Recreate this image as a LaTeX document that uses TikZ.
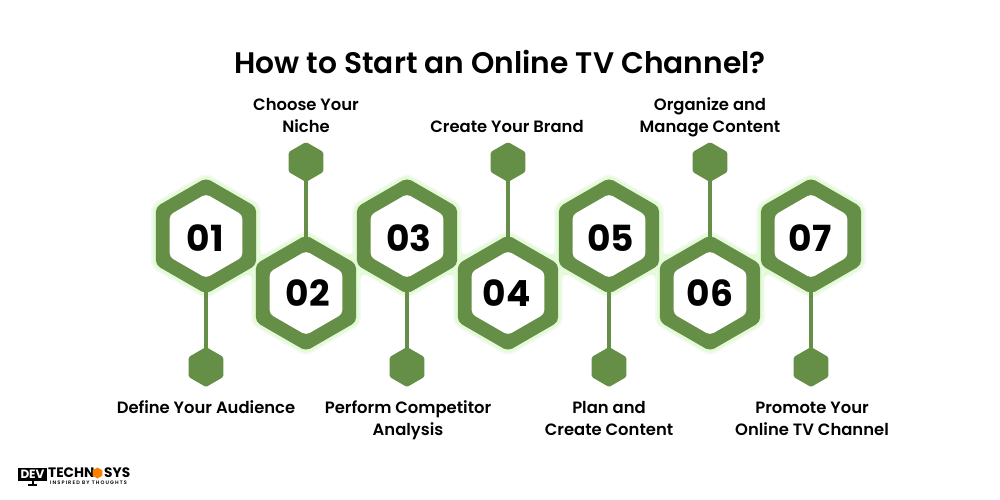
\documentclass[tikz,border=0pt]{standalone}
\usepackage{fontspec}
\setmainfont{Poppins}[UprightFont=* SemiBold,BoldFont=* Bold]
\usetikzlibrary{shapes.geometric}
\definecolor{hexgreen}{HTML}{658E46}
\definecolor{haloGreen}{HTML}{E3FBD6}
\definecolor{shadeGray}{HTML}{F8F8F8}
\tikzset{
    hexa/.style={regular polygon, regular polygon sides=6, shape border rotate=30, inner sep=0pt, outer sep=0pt},
    shade/.style={hexa, minimum size=127pt, fill=shadeGray, rounded corners=7pt},
    halo/.style={hexa, minimum size=123pt, fill=haloGreen, rounded corners=6pt},
    ring/.style={hexa, minimum size=116pt, fill=hexgreen, rounded corners=5pt},
    face/.style={hexa, minimum size=84pt, fill=white, rounded corners=4pt},
    numeral/.style={inner sep=0pt, font=\fontsize{36}{36}\selectfont\bfseries},
    dot/.style={hexa, minimum size=40pt, fill=hexgreen, rounded corners=1.5pt},
    stem/.style={draw=hexgreen, line width=3.2pt, shorten <=-3pt, shorten >=-1pt},
    caption/.style={align=center, inner sep=0pt, font=\fontsize{16.4}{22}\selectfont},
    logotext/.style={anchor=west, inner sep=0pt, font=\fontsize{13.7}{13.7}\selectfont\bfseries}
}
\begin{document}
\begin{tikzpicture}[x=1pt, y=-1pt]
    \useasboundingbox (0,0) rectangle (1000,500);
    \node[font=\fontsize{29.7}{30}\selectfont] (title) at (500,62) {How to Start an Online TV Channel?};
    % hexagons, odd ones high with the dot below
    \foreach \n/\x/\y in {1/206/236, 2/306/293, 3/407/236, 4/508/293, 5/609/236, 6/710/293, 7/811/236}
        \node[shade] (shade\n) at (\x,\y) {};
    \foreach \n/\x/\y in {1/206/236, 2/306/293, 3/407/236, 4/508/293, 5/609/236, 6/710/293, 7/811/236}
        \node[halo] (halo\n) at (\x,\y) {};
    % small fillets where two halos meet
    \foreach \m/\s in {256/1, 356.5/-1, 457.5/1, 558.5/-1, 659.5/1, 760.5/-1}{
        \begin{scope}[shift={(\m,0)}, xscale=\s]
            \fill[haloGreen] (3.4,249) .. controls (3.4,254) and (6,255) .. (10.5,254) -- (3.4,260) -- cycle;
            \fill[haloGreen] (-10.5,275) .. controls (-6,274) and (-3.4,276) .. (-3.4,281) -- (-3.4,270) -- cycle;
        \end{scope}
    }
    \foreach \n/\x/\y/\d/\a/\b in {1/206/236/367/205.5/238, 2/306/293/162/308/293, 3/407/236/367/409/238, 4/508/293/162/506.7/293, 5/609/236/367/610.5/238, 6/710/293/162/710/293, 7/811/236/367/810/238}{
        \node[ring] (ring\n) at (\x,\y) {};
        \node[dot] (dot\n) at (\x,\d) {};
        \draw[stem] (ring\n) -- (dot\n);
        \node[face] (face\n) at (\x,\y) {};
        \node[numeral] (num\n) at (\a,\b) {0\n};
    }
    \node[caption] (cap1) at (206,407) {Define Your Audience};
    \node[caption] (cap2) at (306,115.3) {Choose Your\\Niche};
    \node[caption] (cap3) at (408,420) {Perform Competitor\\Analysis};
    \node[caption] (cap4) at (507,126.3) {Create Your Brand};
    \node[caption] (cap5) at (609,418.3) {Plan and\\Create Content};
    \node[caption] (cap6) at (710,117) {Organize and\\Manage Content};
    \node[caption] (cap7) at (812,419) {Promote Your\\Online TV Channel};
    % logo
    \node[fill=black, text=white, minimum width=29pt, minimum height=13pt, inner sep=0pt, font=\fontsize{12}{12}\selectfont\bfseries] (screen) at (32.5,474.5) {DEV};
    \node[fill=black, minimum width=9pt, minimum height=2pt, inner sep=0pt] (stand) at (32.5,485) {};
    \draw[black, line width=2pt] (screen) -- (stand);
    \node[logotext] (techn) at (48,473) {TECHN};
    \node[hexa, minimum size=11pt, fill=orange] (mark) at (97.5,473) {};
    \node[logotext] (sys) at (104,473) {SYS};
    \node[anchor=west, inner sep=0pt, font=\fontsize{5}{5}\selectfont\addfontfeature{LetterSpace=22}] (tagline) at (50,482.5) {INSPIRED BY THOUGHTS};
\end{tikzpicture}
\end{document}
